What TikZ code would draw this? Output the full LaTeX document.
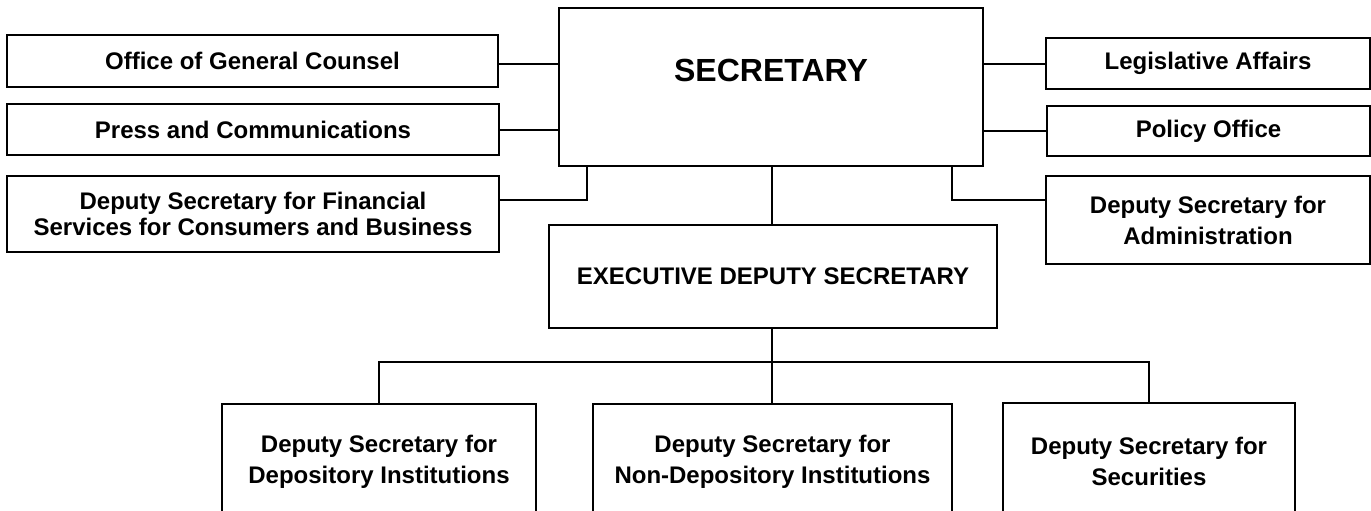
\documentclass[tikz,border=0pt]{standalone}
\usepackage{fontspec}
\setmainfont{Liberation Sans}
\begin{document}
\begin{tikzpicture}[x=0.5pt,y=-0.5pt,
  box/.style={draw, line width=1pt, align=center, inner sep=0pt, outer sep=0pt,
    font=\bfseries\fontsize{12}{15.5}\selectfont},
  conn/.style={line width=1pt},
  bigtext/.style={inner sep=0pt, font=\bfseries\fontsize{16}{19}\selectfont}]
\path[use as bounding box] (0,0) rectangle (1371,510);
\clip (0,0) rectangle (1371,510);
% top level
\node[box, minimum width=212pt, minimum height=79pt] (sec) at (771,87) {};
\node[bigtext] (sectext) at (771,70) {SECRETARY};
% left column
\node[box, minimum width=245.5pt, minimum height=26pt] (off) at (252.5,61) {Office of General Counsel};
\node[box, minimum width=246pt, minimum height=25.5pt] (press) at (253,129.5) {Press and Communications};
\node[box, minimum width=246pt, minimum height=38pt, font=\bfseries\fontsize{12}{13}\selectfont] (depfin) at (253,214) {Deputy Secretary for Financial\\Services for Consumers and Business};
% right column
\node[box, minimum width=162pt, minimum height=25.5pt] (leg) at (1208,63.5) {Legislative Affairs};
\node[box, minimum width=161.5pt, minimum height=25pt] (pol) at (1208.5,131) {Policy Office};
\node[box, minimum width=162pt, minimum height=44pt] (adm) at (1208,220) {Deputy Secretary for\\Administration};
% executive
\node[box, minimum width=224pt, minimum height=51.5pt] (exec) at (773,276.5) {EXECUTIVE DEPUTY SECRETARY};
% bottom row
\node[box, minimum width=157pt, minimum height=58pt] (dep) at (379,462) {Deputy Secretary for\\Depository Institutions};
\node[box, minimum width=179.5pt, minimum height=58pt] (nondep) at (772.5,462) {Deputy Secretary for\\Non-Depository Institutions};
\node[box, minimum width=146pt, minimum height=58.5pt] (secu) at (1149,461.5) {Deputy Secretary for\\Securities};
% junction coordinates
\coordinate (j1) at (587,200);
\coordinate (j2) at (952,200);
\coordinate (bus) at (772,362);
% connectors
\draw[conn] ([yshift=-1.5pt]off.east) -- ([yshift=-1.5pt]off.east -| sec.west);
\draw[conn] (press.east) -- (press.east -| sec.west);
\draw[conn] (leg.west) -- (leg.west -| sec.east);
\draw[conn] (pol.west) -- (pol.west -| sec.east);
\draw[conn] (j1 |- sec.south) -- (j1) -- (j1 -| depfin.east);
\draw[conn] (j2 |- sec.south) -- (j2) -- (j2 -| adm.west);
\draw[conn] (bus |- sec.south) -- (bus |- exec.north);
\draw[conn] (bus |- exec.south) -- (bus |- nondep.north);
\draw[line width=1.3pt] (dep.north) -- (dep.north |- bus) -- (secu.north |- bus) -- (secu.north);
\end{tikzpicture}
\end{document}
